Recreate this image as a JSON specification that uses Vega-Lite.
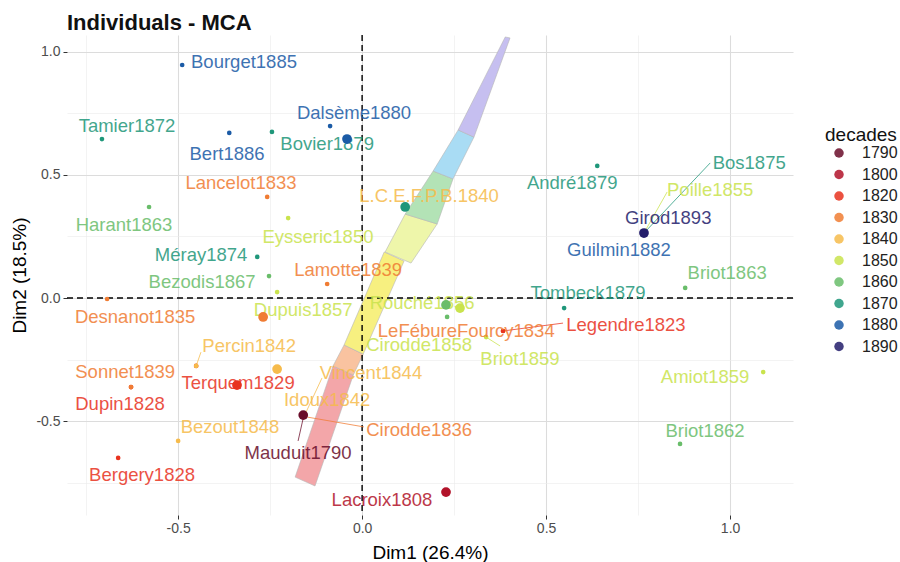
{
  "$schema": "https://vega.github.io/schema/vega-lite/v6.json",
  "width": 726,
  "height": 480,
  "autosize": {"type": "none"},
  "padding": {"left": 67, "top": 35, "right": 107, "bottom": 47},
  "background": "white",
  "title": {"text": "Individuals - MCA", "anchor": "start", "frame": "group", "fontSize": 22, "fontWeight": "bold", "font": "Liberation Sans", "color": "#111111", "offset": -1},
  "config": {"view": {"stroke": null}, "font": "Liberation Sans"},
  "datasets": {
    "wedge": [
      {"band": "w1", "i": 0, "x": -0.182, "y": -0.728}, {"band": "w1", "i": 1, "x": -0.128, "y": -0.764}, {"band": "w1", "i": 2, "x": -0.024, "y": -0.313}, {"band": "w1", "i": 3, "x": -0.079, "y": -0.276}, {"band": "w1", "i": 4, "x": -0.182, "y": -0.728},
      {"band": "w2", "i": 0, "x": -0.079, "y": -0.276}, {"band": "w2", "i": 1, "x": -0.024, "y": -0.313}, {"band": "w2", "i": 2, "x": 0.003, "y": -0.228}, {"band": "w2", "i": 3, "x": -0.049, "y": -0.191}, {"band": "w2", "i": 4, "x": -0.079, "y": -0.276},
      {"band": "w3", "i": 0, "x": -0.049, "y": -0.191}, {"band": "w3", "i": 1, "x": 0.003, "y": -0.228}, {"band": "w3", "i": 2, "x": 0.114, "y": 0.150}, {"band": "w3", "i": 3, "x": 0.060, "y": 0.187}, {"band": "w3", "i": 4, "x": -0.049, "y": -0.191},
      {"band": "w4", "i": 0, "x": 0.0625, "y": 0.187}, {"band": "w4", "i": 1, "x": 0.133, "y": 0.142}, {"band": "w4", "i": 2, "x": 0.204, "y": 0.301}, {"band": "w4", "i": 3, "x": 0.117, "y": 0.341}, {"band": "w4", "i": 4, "x": 0.0625, "y": 0.187},
      {"band": "w5", "i": 0, "x": 0.117, "y": 0.341}, {"band": "w5", "i": 1, "x": 0.204, "y": 0.301}, {"band": "w5", "i": 2, "x": 0.247, "y": 0.484}, {"band": "w5", "i": 3, "x": 0.193, "y": 0.516}, {"band": "w5", "i": 4, "x": 0.117, "y": 0.341},
      {"band": "w6", "i": 0, "x": 0.193, "y": 0.516}, {"band": "w6", "i": 1, "x": 0.247, "y": 0.484}, {"band": "w6", "i": 2, "x": 0.304, "y": 0.654}, {"band": "w6", "i": 3, "x": 0.261, "y": 0.683}, {"band": "w6", "i": 4, "x": 0.193, "y": 0.516},
      {"band": "w7", "i": 0, "x": 0.261, "y": 0.683}, {"band": "w7", "i": 1, "x": 0.304, "y": 0.654}, {"band": "w7", "i": 2, "x": 0.402, "y": 1.057}, {"band": "w7", "i": 3, "x": 0.389, "y": 1.061}, {"band": "w7", "i": 4, "x": 0.261, "y": 0.683}
    ],
    "zero": [{"v": 0}],
    "leaders": [
      {"decade": "1790", "x": -0.160, "y": -0.488, "x2": -0.174, "y2": -0.581},
      {"decade": "1830", "x": -0.149, "y": -0.484, "x2": 0.005, "y2": -0.524},
      {"decade": "1840", "x": -0.152, "y": -0.463, "x2": -0.109, "y2": -0.325},
      {"decade": "1820", "x": 0.383, "y": -0.134, "x2": 0.546, "y2": -0.102},
      {"decade": "1850", "x": 0.337, "y": -0.159, "x2": 0.375, "y2": -0.195},
      {"decade": "1870", "x": 0.766, "y": 0.264, "x2": 0.946, "y2": 0.549},
      {"decade": "1850", "x": 0.766, "y": 0.264, "x2": 0.829, "y2": 0.431},
      {"decade": "1840", "x": -0.451, "y": -0.276, "x2": -0.438, "y2": -0.220}
    ],
    "individuals": [
      {"name": "Dupin1828", "decade": "1820", "x": -0.628, "y": -0.362, "lx": -0.658, "ly": -0.431},
      {"name": "Sonnet1839", "decade": "1830", "x": -0.628, "y": -0.362, "lx": -0.644, "ly": -0.301},
      {"name": "Bourget1885", "decade": "1880", "x": -0.489, "y": 0.947, "lx": -0.321, "ly": 0.959},
      {"name": "Dalsème1880", "decade": "1880", "x": -0.087, "y": 0.699, "lx": -0.022, "ly": 0.752},
      {"name": "Tamier1872", "decade": "1870", "x": -0.707, "y": 0.646, "lx": -0.639, "ly": 0.699},
      {"name": "Bert1886", "decade": "1880", "x": -0.361, "y": 0.671, "lx": -0.367, "ly": 0.585},
      {"name": "Bovier1879", "decade": "1870", "x": -0.245, "y": 0.675, "lx": -0.095, "ly": 0.626},
      {"name": "Lancelot1833", "decade": "1830", "x": -0.258, "y": 0.411, "lx": -0.329, "ly": 0.467},
      {"name": "Harant1863", "decade": "1860", "x": -0.579, "y": 0.370, "lx": -0.647, "ly": 0.297},
      {"name": "Eysseric1850", "decade": "1850", "x": -0.201, "y": 0.325, "lx": -0.120, "ly": 0.248},
      {"name": "L.C.E.F.P.B.1840", "decade": "1840", "x": 0.117, "y": 0.370, "lx": 0.182, "ly": 0.415},
      {"name": "Méray1874", "decade": "1870", "x": -0.285, "y": 0.167, "lx": -0.4375, "ly": 0.175},
      {"name": "Bezodis1867", "decade": "1860", "x": -0.253, "y": 0.089, "lx": -0.435, "ly": 0.065},
      {"name": "Lamotte1839", "decade": "1830", "x": -0.095, "y": 0.057, "lx": -0.038, "ly": 0.114},
      {"name": "Dupuis1857", "decade": "1850", "x": -0.231, "y": 0.024, "lx": -0.160, "ly": -0.049},
      {"name": "Desnanot1835", "decade": "1830", "x": -0.693, "y": -0.004, "lx": -0.617, "ly": -0.077},
      {"name": "Terquem1829", "decade": "1820", "x": -0.451, "y": -0.276, "lx": -0.337, "ly": -0.346},
      {"name": "Percin1842", "decade": "1840", "x": -0.451, "y": -0.276, "lx": -0.307, "ly": -0.195},
      {"name": "Bezout1848", "decade": "1840", "x": -0.5, "y": -0.581, "lx": -0.359, "ly": -0.524},
      {"name": "Bergery1828", "decade": "1820", "x": -0.663, "y": -0.650, "lx": -0.598, "ly": -0.720},
      {"name": "Cirodde1836", "decade": "1830", "x": -0.160, "y": -0.476, "lx": 0.155, "ly": -0.537},
      {"name": "Idoux1842", "decade": "1840", "x": -0.160, "y": -0.476, "lx": -0.095, "ly": -0.415},
      {"name": "Vincent1844", "decade": "1840", "x": -0.160, "y": -0.476, "lx": 0.024, "ly": -0.305},
      {"name": "Mauduit1790", "decade": "1790", "x": -0.160, "y": -0.476, "lx": -0.174, "ly": -0.630},
      {"name": "Lacroix1808", "decade": "1800", "x": 0.228, "y": -0.789, "lx": 0.054, "ly": -0.821},
      {"name": "", "decade": "1860", "x": 0.231, "y": -0.077},
      {"name": "Cirodde1858", "decade": "1850", "x": 0.266, "y": -0.041, "lx": 0.155, "ly": -0.191},
      {"name": "Rouché1856", "decade": "1850", "x": 0.266, "y": -0.041, "lx": 0.163, "ly": -0.020},
      {"name": "LeFébureFourcy1834", "decade": "1830", "x": 0.383, "y": -0.134, "lx": 0.283, "ly": -0.134},
      {"name": "Legendre1823", "decade": "1820", "x": 0.383, "y": -0.134, "lx": 0.717, "ly": -0.110},
      {"name": "Briot1859", "decade": "1850", "x": 0.337, "y": -0.159, "lx": 0.429, "ly": -0.248},
      {"name": "Tombeck1879", "decade": "1870", "x": 0.549, "y": -0.041, "lx": 0.614, "ly": 0.020},
      {"name": "Briot1863", "decade": "1860", "x": 0.878, "y": 0.041, "lx": 0.992, "ly": 0.102},
      {"name": "Amiot1859", "decade": "1850", "x": 1.090, "y": -0.301, "lx": 0.932, "ly": -0.321},
      {"name": "Briot1862", "decade": "1860", "x": 0.864, "y": -0.593, "lx": 0.932, "ly": -0.541},
      {"name": "André1879", "decade": "1870", "x": 0.639, "y": 0.537, "lx": 0.571, "ly": 0.467},
      {"name": "Bos1875", "decade": "1870", "x": 0.766, "y": 0.264, "lx": 1.052, "ly": 0.549},
      {"name": "Poille1855", "decade": "1850", "x": 0.766, "y": 0.264, "lx": 0.946, "ly": 0.439},
      {"name": "Guilmin1882", "decade": "1880", "x": 0.766, "y": 0.264, "lx": 0.698, "ly": 0.195},
      {"name": "Girod1893", "decade": "1890", "x": 0.766, "y": 0.264, "lx": 0.832, "ly": 0.325}
    ],
    "centroids": [
      {"decade": "1790", "x": -0.160, "y": -0.476},
      {"decade": "1800", "x": 0.228, "y": -0.789},
      {"decade": "1820", "x": -0.340, "y": -0.354},
      {"decade": "1830", "x": -0.269, "y": -0.077},
      {"decade": "1840", "x": -0.231, "y": -0.289},
      {"decade": "1850", "x": 0.266, "y": -0.041},
      {"decade": "1860", "x": 0.228, "y": -0.028},
      {"decade": "1870", "x": 0.117, "y": 0.370},
      {"decade": "1880", "x": -0.041, "y": 0.646},
      {"decade": "1890", "x": 0.766, "y": 0.264}
    ]
  },
  "layer": [
    {
      "data": {"name": "wedge"},
      "mark": {"type": "line", "stroke": "#b5b5b5", "strokeWidth": 0.6},
      "encoding": {
        "x": {"field": "x", "type": "quantitative", "title": "Dim1 (26.4%)",
          "scale": {"domain": [-0.802, 1.171], "nice": false, "zero": false},
          "axis": {
            "values": [-0.75, -0.5, -0.25, 0, 0.25, 0.5, 0.75, 1],
            "labelExpr": "datum.value % 0.5 == 0 ? replace(format(datum.value, '.1f'), '\u2212', '-') : ''",
            "domain": false, "grid": true,
            "gridColor": {"condition": {"test": "datum.value % 0.5 == 0", "value": "#dcdcdc"}, "value": "#ebebeb"},
            "gridWidth": {"condition": {"test": "datum.value % 0.5 == 0", "value": 1.1}, "value": 0.6},
            "tickOpacity": {"condition": {"test": "datum.value % 0.5 == 0", "value": 1}, "value": 0},
            "tickColor": "#333333", "tickSize": 4, "tickWidth": 1,
            "labelFontSize": 14, "labelColor": "#4d4d4d", "labelPadding": 2, "labelFlush": false, "labelOverlap": false,
            "titleFontSize": 19, "titleFontWeight": "normal", "titleColor": "#000000", "titlePadding": 8
          }
        },
        "y": {"field": "y", "type": "quantitative", "title": "Dim2 (18.5%)",
          "scale": {"domain": [-0.882, 1.069], "nice": false, "zero": false},
          "axis": {
            "values": [-0.75, -0.5, -0.25, 0, 0.25, 0.5, 0.75, 1],
            "labelExpr": "datum.value % 0.5 == 0 ? replace(format(datum.value, '.1f'), '\u2212', '-') : ''",
            "domain": false, "grid": true,
            "gridColor": {"condition": {"test": "datum.value % 0.5 == 0", "value": "#dcdcdc"}, "value": "#ebebeb"},
            "gridWidth": {"condition": {"test": "datum.value % 0.5 == 0", "value": 1.1}, "value": 0.6},
            "tickOpacity": {"condition": {"test": "datum.value % 0.5 == 0", "value": 1}, "value": 0},
            "tickColor": "#333333", "tickSize": 4, "tickWidth": 1,
            "labelFontSize": 14, "labelColor": "#4d4d4d", "labelPadding": 3, "labelFlush": false, "labelOverlap": false,
            "titleFontSize": 19, "titleFontWeight": "normal", "titleColor": "#000000", "titlePadding": 6
          }
        },
        "detail": {"field": "band"},
        "order": {"field": "i", "type": "quantitative"},
        "fill": {"field": "band", "type": "nominal", "legend": null,
          "scale": {"domain": ["w1", "w2", "w3", "w4", "w5", "w6", "w7"], "range": ["#F3A6A9", "#F9C3A0", "#F7F080", "#EEF6AA", "#B3E3B6", "#A9DCF4", "#C6BFF0"]}}
      }
    },
    {
      "data": {"name": "zero"},
      "mark": {"type": "rule", "color": "#000000", "strokeWidth": 1.4, "strokeDash": [6, 4]},
      "encoding": {
        "y": {"field": "v", "type": "quantitative", "title": "Dim2 (18.5%)", "scale": {"domain": [-0.882, 1.069], "nice": false, "zero": false}}
      }
    },
    {
      "data": {"name": "zero"},
      "mark": {"type": "rule", "color": "#000000", "strokeWidth": 1.4, "strokeDash": [6, 4]},
      "encoding": {
        "x": {"field": "v", "type": "quantitative", "title": "Dim1 (26.4%)", "scale": {"domain": [-0.802, 1.171], "nice": false, "zero": false}}
      }
    },
    {
      "data": {"name": "leaders"},
      "mark": {"type": "rule", "strokeWidth": 0.9, "opacity": 0.85},
      "encoding": {
        "x": {"field": "x", "type": "quantitative", "title": "Dim1 (26.4%)", "scale": {"domain": [-0.802, 1.171], "nice": false, "zero": false}},
        "y": {"field": "y", "type": "quantitative", "title": "Dim2 (18.5%)", "scale": {"domain": [-0.882, 1.069], "nice": false, "zero": false}},
        "x2": {"field": "x2"},
        "y2": {"field": "y2"},
        "color": {"field": "decade", "type": "nominal", "title": "decades",
          "scale": {"domain": ["1790", "1800", "1820", "1830", "1840", "1850", "1860", "1870", "1880", "1890"], "range": ["#6a0d2a", "#b2132a", "#e8331f", "#f07c33", "#f6bb4b", "#c9e34d", "#69bd6a", "#1f977a", "#1b5ba6", "#231d6b"]}}
      }
    },
    {
      "data": {"name": "individuals"},
      "mark": {"type": "circle", "size": 22, "opacity": 1},
      "encoding": {
        "x": {"field": "x", "type": "quantitative", "title": "Dim1 (26.4%)", "scale": {"domain": [-0.802, 1.171], "nice": false, "zero": false}},
        "y": {"field": "y", "type": "quantitative", "title": "Dim2 (18.5%)", "scale": {"domain": [-0.882, 1.069], "nice": false, "zero": false}},
        "color": {"field": "decade", "type": "nominal", "title": "decades",
          "scale": {"domain": ["1790", "1800", "1820", "1830", "1840", "1850", "1860", "1870", "1880", "1890"], "range": ["#6a0d2a", "#b2132a", "#e8331f", "#f07c33", "#f6bb4b", "#c9e34d", "#69bd6a", "#1f977a", "#1b5ba6", "#231d6b"]},
          "legend": {"orient": "none", "legendX": 758, "legendY": 91, "titleFontSize": 19, "titleFontWeight": "normal", "titleColor": "#111111", "titlePadding": 0,
            "labelFontSize": 16, "labelColor": "#222222", "symbolType": "circle", "symbolSize": 90, "symbolStrokeWidth": 0, "symbolOpacity": 1,
            "rowPadding": 5.5, "symbolOffset": 6, "labelOffset": 15}}
      }
    },
    {
      "data": {"name": "individuals"},
      "transform": [{"filter": "datum.name != ''"}],
      "mark": {"type": "text", "fontSize": 18.5, "font": "Liberation Sans", "align": "center", "baseline": "middle", "opacity": 0.85},
      "encoding": {
        "x": {"field": "lx", "type": "quantitative", "title": "Dim1 (26.4%)", "scale": {"domain": [-0.802, 1.171], "nice": false, "zero": false}},
        "y": {"field": "ly", "type": "quantitative", "title": "Dim2 (18.5%)", "scale": {"domain": [-0.882, 1.069], "nice": false, "zero": false}},
        "text": {"field": "name"},
        "color": {"field": "decade", "type": "nominal", "title": "decades",
          "scale": {"domain": ["1790", "1800", "1820", "1830", "1840", "1850", "1860", "1870", "1880", "1890"], "range": ["#6a0d2a", "#b2132a", "#e8331f", "#f07c33", "#f6bb4b", "#c9e34d", "#69bd6a", "#1f977a", "#1b5ba6", "#231d6b"]}}
      }
    },
    {
      "data": {"name": "centroids"},
      "mark": {"type": "circle", "size": 95, "opacity": 1},
      "encoding": {
        "x": {"field": "x", "type": "quantitative", "title": "Dim1 (26.4%)", "scale": {"domain": [-0.802, 1.171], "nice": false, "zero": false}},
        "y": {"field": "y", "type": "quantitative", "title": "Dim2 (18.5%)", "scale": {"domain": [-0.882, 1.069], "nice": false, "zero": false}},
        "color": {"field": "decade", "type": "nominal", "title": "decades",
          "scale": {"domain": ["1790", "1800", "1820", "1830", "1840", "1850", "1860", "1870", "1880", "1890"], "range": ["#6a0d2a", "#b2132a", "#e8331f", "#f07c33", "#f6bb4b", "#c9e34d", "#69bd6a", "#1f977a", "#1b5ba6", "#231d6b"]}}
      }
    }
  ],
  "resolve": {"scale": {"fill": "independent"}}
}
